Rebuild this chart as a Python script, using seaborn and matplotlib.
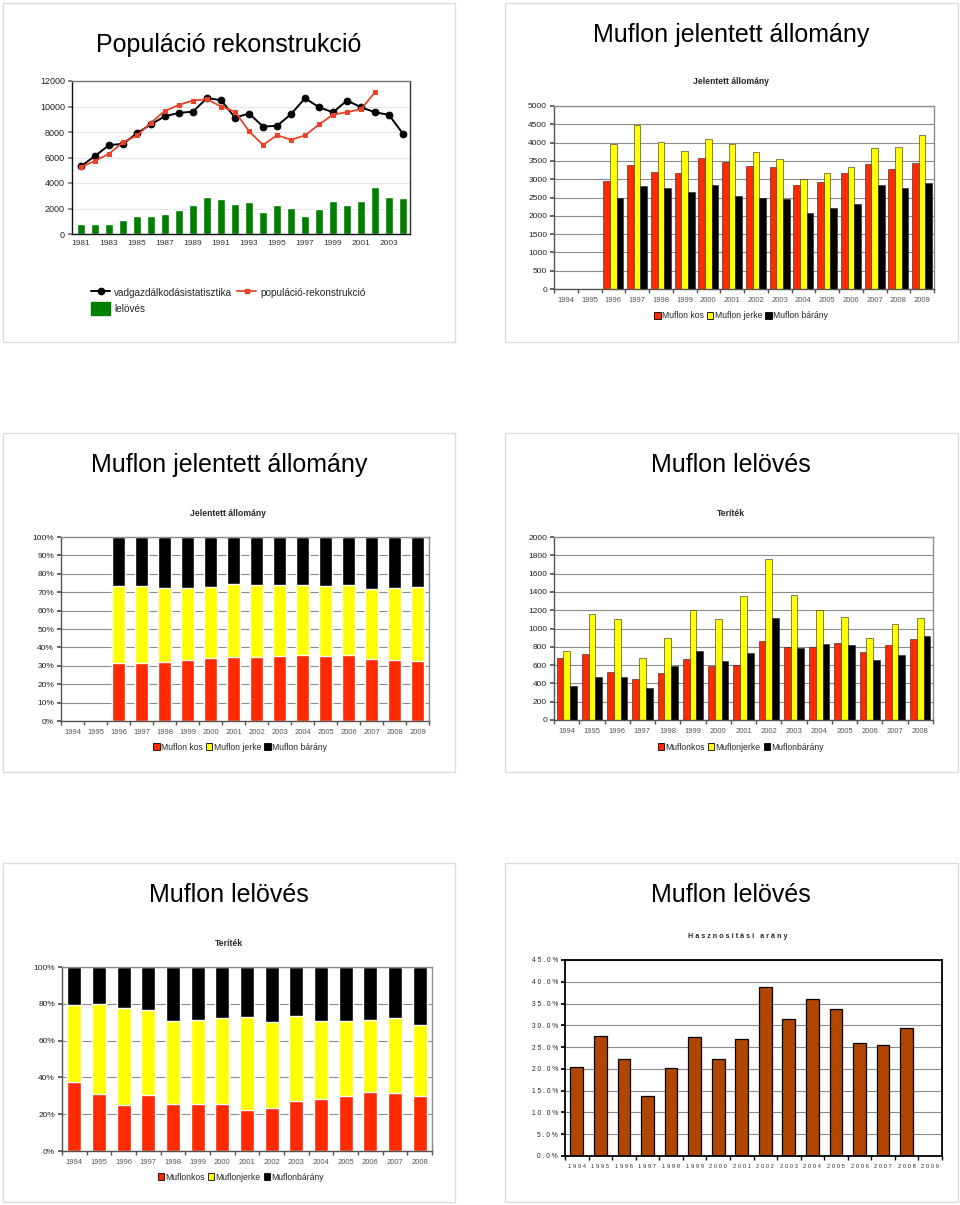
import numpy as np
import pandas as pd
import matplotlib
matplotlib.use('Agg')
import matplotlib.pyplot as plt
import seaborn as sns
from matplotlib.patches import Rectangle, Patch
from matplotlib.lines import Line2D

sns.set_theme(style='white')
plt.rcParams['font.family'] = ['Liberation Sans', 'DejaVu Sans']

nan = np.nan

# ---------------- data ----------------
pop_years = [str(y) for y in range(1981, 2005)]
vadstat = [5320, 6130, 6970, 7070, 7910, 8610, 9240, 9500, 9600, 10670, 10490, 9130,
           9450, 8430, 8480, 9400, 10650, 9940, 9550, 10470, 9940, 9550, 9340, 7860]
poprek = [5250, 5740, 6290, 7200, 7730, 8740, 9660, 10130, 10470, 10570, 10000, 9600,
          8060, 6990, 7750, 7390, 7730, 8590, 9370, 9550, 9790, 11120, nan, nan]
lelo = [810, 810, 780, 1100, 1410, 1440, 1590, 1850, 2300, 2920, 2740, 2350,
        2510, 1750, 2300, 2040, 1410, 1930, 2560, 2300, 2610, 3680, 2900, 2790]

all_years = [str(y) for y in range(1994, 2010)]
all_kos = [nan, nan, 2960, 3380, 3200, 3180, 3570, 3460, 3350, 3320, 2840, 2915, 3160, 3405, 3290, 3430]
all_jerke = [nan, nan, 3950, 4480, 4020, 3760, 4110, 3950, 3740, 3560, 3000, 3160, 3345, 3865, 3880, 4210]
all_barany = [nan, nan, 2500, 2820, 2750, 2640, 2830, 2545, 2500, 2460, 2068, 2215, 2315, 2835, 2765, 2890]

ter_years = [str(y) for y in range(1994, 2009)]
ter_kos = [680, 725, 520, 450, 515, 670, 595, 605, 865, 795, 800, 840, 740, 820, 880]
ter_jerke = [755, 1160, 1105, 675, 900, 1205, 1105, 1350, 1755, 1370, 1200, 1130, 900, 1045, 1120]
ter_barany = [375, 470, 465, 345, 595, 750, 650, 730, 1110, 785, 835, 825, 655, 715, 920]

hasz_years = [str(y) for y in range(1994, 2010)]
hasz_arany = [20.5, 27.6, 22.2, 13.8, 20.2, 27.3, 22.3, 26.9, 38.9, 31.4, 36.0, 33.7, 26.0, 25.4, 29.4, nan]

# ---------------- layout ----------------
W, H = 960, 1205
fig = plt.figure(figsize=(9.6, 12.05), dpi=100)
fig.patch.set_facecolor('white')

def ax_at(l, t, r, b):
    return fig.add_axes([l / W, 1 - b / H, (r - l) / W, (b - t) / H])

def ftext(x, y, s, **kw):
    fig.text(x / W, 1 - y / H, s, ha='center', va='center', **kw)

for (x0, y0, x1, y1) in [(3, 3, 455, 342), (505, 3, 958, 342), (3, 433, 455, 772),
                         (505, 433, 958, 772), (3, 863, 455, 1202), (505, 863, 958, 1202)]:
    fig.add_artist(Rectangle((x0 / W, 1 - y1 / H), (x1 - x0) / W, (y1 - y0) / H,
                             transform=fig.transFigure, fill=False,
                             edgecolor='#dcdcdc', lw=1))

RED = '#FF2A00'
YEL = '#FFFF00'
BLK = '#000000'

def style_axes(ax, grid='#8c8c8c', spine_lb='#555555', spine_tr='#8c8c8c', lw=0.8):
    ax.set_facecolor('white')
    ax.grid(False)
    ax.yaxis.grid(True, color=grid, lw=lw)
    ax.set_axisbelow(True)
    for s in ['left', 'bottom']:
        ax.spines[s].set_color(spine_lb)
        ax.spines[s].set_linewidth(1.0)
    for s in ['top', 'right']:
        ax.spines[s].set_color(spine_tr)
        ax.spines[s].set_linewidth(1.0)
    ax.set_xlabel('')
    ax.set_ylabel('')

def cat_ticks(ax, n, xcolor='#555555', xsize=5.5, ysize=6):
    ax.set_xlim(-0.5, n - 0.5)
    ax.set_xticks(np.arange(n))
    ax.set_xticks(np.arange(n + 1) - 0.5, minor=True)
    ax.tick_params(axis='x', which='major', length=0, labelsize=xsize, labelcolor=xcolor, pad=6)
    ax.tick_params(axis='x', which='minor', length=3, color='#555555', direction='out', bottom=True)
    ax.tick_params(axis='y', length=3, color='#555555', direction='out', left=True,
                   labelsize=ysize, labelcolor='#222222', pad=2)

def legend3(ax, labels, cx, cy, fs=6.2):
    handles = [Patch(facecolor=c, edgecolor='black', lw=0.6) for c in (RED, YEL, BLK)]
    fig.legend(handles, labels, loc='center', bbox_to_anchor=(cx / W, 1 - cy / H),
               ncol=3, frameon=False, fontsize=fs, handlelength=0.75, handleheight=0.75,
               handletextpad=0.15, columnspacing=0.35, borderpad=0)

# ---------------- Panel 1 ----------------
ftext(229, 45, 'Populáció rekonstrukció', fontsize=18, color='black')
ax1 = ax_at(72, 81, 410, 234)
sns.barplot(x=pop_years, y=lelo, order=pop_years, color='#008000', width=0.54,
            saturation=1, ax=ax1)
xi = np.arange(len(pop_years))
sns.lineplot(x=xi, y=vadstat, color='black', marker='o', markersize=4.8, lw=1.4,
             markeredgecolor='black', ax=ax1)
sns.lineplot(x=xi, y=poprek, color='#E8432A', marker='s', markersize=3.0, lw=1.3,
             markeredgecolor='#E8432A', ax=ax1)
style_axes(ax1, grid='#e6e6e6', spine_lb='#111111', spine_tr='#333333')
ax1.spines['top'].set_color('#777777')
ax1.set_xlim(-0.65, len(pop_years) - 0.5)
ax1.set_ylim(0, 12000)
ax1.set_yticks(np.arange(0, 12001, 2000))
ax1.set_xticks(xi[::2])
ax1.set_xticklabels(pop_years[::2])
ax1.tick_params(axis='x', length=0, labelsize=6, labelcolor='#333333', pad=4)
ax1.tick_params(axis='y', length=3, left=True, color='#777777', labelsize=6.5,
                labelcolor='#222222', pad=2)
h1 = [Line2D([], [], color='black', marker='o', markersize=4.5, lw=1.4),
      Patch(facecolor='#008000', edgecolor='#008000'),
      Line2D([], [], color='#E8432A', marker='s', markersize=2.5, lw=1.3)]
fig.legend(h1, ['vadgazdálkodásistatisztika', 'lelövés', 'populáció-rekonstrukció'],
           loc='upper left', bbox_to_anchor=(86 / W, 1 - 281 / H), ncol=2, frameon=False,
           fontsize=7.2, handlelength=1.9, handleheight=1.6, handletextpad=0.4,
           columnspacing=0.5, labelspacing=0.35, borderpad=0)

# ---------------- Panel 2 ----------------
ftext(731, 35, 'Muflon jelentett állomány', fontsize=18, color='black')
ftext(731, 82, 'Jelentett állomány', fontsize=6.2, fontweight='bold')
ax2 = ax_at(554, 106, 934, 289)
df2 = pd.DataFrame({'year': all_years * 3,
                    'value': all_kos + all_jerke + all_barany,
                    'cat': ['Muflon kos'] * 16 + ['Muflon jerke'] * 16 + ['Muflon bárány'] * 16})
sns.barplot(data=df2, x='year', y='value', hue='cat', order=all_years,
            hue_order=['Muflon kos', 'Muflon jerke', 'Muflon bárány'],
            palette=[RED, YEL, BLK], width=0.85, saturation=1, edgecolor='#222222',
            linewidth=0.4, legend=False, ax=ax2)
style_axes(ax2)
cat_ticks(ax2, 16)
ax2.set_ylim(0, 5000)
ax2.set_yticks(np.arange(0, 5001, 500))
legend3(ax2, ['Muflon kos', 'Muflon jerke', 'Muflon bárány'], 741, 316)

# ---------------- Panel 3 ----------------
ftext(229, 465, 'Muflon jelentett állomány', fontsize=18, color='black')
ftext(228, 513, 'Jelentett állomány', fontsize=6.2, fontweight='bold')
ax3 = ax_at(61, 537, 429, 721)
k3 = np.array(all_kos); j3 = np.array(all_jerke); b3 = np.array(all_barany)
tot3 = k3 + j3 + b3
full3 = np.where(np.isnan(tot3), nan, 100.0)
sns.barplot(x=all_years, y=full3, order=all_years, color=BLK, width=0.55, saturation=1, ax=ax3)
sns.barplot(x=all_years, y=(k3 + j3) / tot3 * 100, order=all_years, color=YEL, width=0.55,
            saturation=1, ax=ax3)
sns.barplot(x=all_years, y=k3 / tot3 * 100, order=all_years, color=RED, width=0.55,
            saturation=1, ax=ax3)
style_axes(ax3)
cat_ticks(ax3, 16)
ax3.set_ylim(0, 100)
ax3.set_yticks(np.arange(0, 101, 10))
ax3.set_yticklabels([f'{v}%' for v in range(0, 101, 10)])
legend3(ax3, ['Muflon kos', 'Muflon jerke', 'Muflon bárány'], 240, 747)

# ---------------- Panel 4 ----------------
ftext(731, 465, 'Muflon lelövés', fontsize=18, color='black')
ftext(731, 513, 'Teríték', fontsize=6.2, fontweight='bold')
ax4 = ax_at(554, 537, 933, 720)
df4 = pd.DataFrame({'year': ter_years * 3,
                    'value': ter_kos + ter_jerke + ter_barany,
                    'cat': ['Muflonkos'] * 15 + ['Muflonjerke'] * 15 + ['Muflonbárány'] * 15})
sns.barplot(data=df4, x='year', y='value', hue='cat', order=ter_years,
            hue_order=['Muflonkos', 'Muflonjerke', 'Muflonbárány'],
            palette=[RED, YEL, BLK], width=0.8, saturation=1, edgecolor='#222222',
            linewidth=0.4, legend=False, ax=ax4)
style_axes(ax4)
cat_ticks(ax4, 15)
ax4.set_ylim(0, 2000)
ax4.set_yticks(np.arange(0, 2001, 200))
legend3(ax4, ['Muflonkos', 'Muflonjerke', 'Muflonbárány'], 741, 747)

# ---------------- Panel 5 ----------------
ftext(229, 895, 'Muflon lelövés', fontsize=18, color='black')
ftext(229, 943, 'Teríték', fontsize=6.2, fontweight='bold')
ax5 = ax_at(62, 967, 432, 1151)
k5 = np.array(ter_kos, float); j5 = np.array(ter_jerke, float); b5 = np.array(ter_barany, float)
tot5 = k5 + j5 + b5
sns.barplot(x=ter_years, y=np.full(len(ter_years), 100.0), order=ter_years, color=BLK,
            width=0.57, saturation=1, ax=ax5)
sns.barplot(x=ter_years, y=(k5 + j5) / tot5 * 100, order=ter_years, color=YEL, width=0.57,
            saturation=1, ax=ax5)
sns.barplot(x=ter_years, y=k5 / tot5 * 100, order=ter_years, color=RED, width=0.57,
            saturation=1, ax=ax5)
style_axes(ax5)
cat_ticks(ax5, 15)
ax5.set_ylim(0, 100)
ax5.set_yticks(np.arange(0, 101, 20))
ax5.set_yticklabels([f'{v}%' for v in range(0, 101, 20)])
legend3(ax5, ['Muflonkos', 'Muflonjerke', 'Muflonbárány'], 241, 1177)

# ---------------- Panel 6 ----------------
ftext(731, 895, 'Muflon lelövés', fontsize=18, color='black')
ftext(738, 936, ' '.join('Hasznosítási arány'), fontsize=5.2, fontweight='bold')
ax6 = ax_at(565, 960, 942, 1156)
sns.barplot(x=hasz_years, y=hasz_arany, order=hasz_years, color='#B04600', width=0.54,
            saturation=1, edgecolor='black', linewidth=0.9, ax=ax6)
style_axes(ax6, grid='#8c8c8c', spine_lb='black', spine_tr='black', lw=0.8)
for s in ax6.spines.values():
    s.set_linewidth(1.3)
cat_ticks(ax6, 16, xcolor='#333333', xsize=4.2, ysize=4.8)
ax6.tick_params(axis='x', which='minor', color='black')
ax6.tick_params(axis='y', color='black')
ax6.set_ylim(0, 45)
ax6.set_yticks(np.arange(0, 45.1, 5))
ax6.set_yticklabels([' '.join(f'{v:.1f}%') for v in np.arange(0, 45.1, 5)])
ax6.set_xticklabels([' '.join(y) for y in hasz_years])

fig.savefig('out.png', dpi=100, facecolor='white')
